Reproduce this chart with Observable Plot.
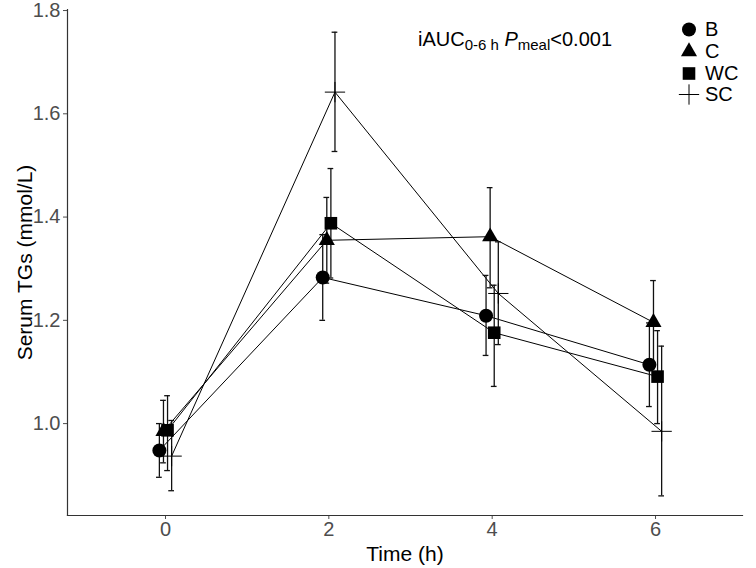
<!DOCTYPE html>
<html>
<head>
<meta charset="utf-8">
<script src="https://cdn.jsdelivr.net/npm/d3@7"></script>
<script src="https://cdn.jsdelivr.net/npm/@observablehq/plot@0.6"></script>
<style>
  body { margin: 0; background: white; }
  #wrap { position: relative; width: 756px; height: 568px; font-family: "Liberation Sans", Arial, sans-serif; }
  #chart { position: absolute; left: 0; top: 0; }
  #note { position: absolute; left: 418px; top: 28px; font-size: 20px; color: #000; white-space: nowrap; }
  #note sub { font-size: 15px; vertical-align: -4px; }
  #legend { position: absolute; left: 678px; top: 19px; font-size: 20px; color: #000; }
  .row { display: flex; align-items: center; height: 21.7px; }
  .row svg { margin-right: 5px; }
</style>
</head>
<body>
<div id="wrap">
  <div id="chart"></div>
  <div id="note">iAUC<sub>0-6 h</sub> <i>P</i><sub>meal</sub>&lt;0.001</div>
  <div id="legend"></div>
</div>
<script>
// ---- data ----
const times = [0, 2, 4, 6];
const seriesNames = ["B", "C", "WC", "SC"];
const B_mean  = [0.948, 1.283, 1.209, 1.114];
const B_lo    = [0.896, 1.200, 1.132, 1.033];
const B_hi    = [1.000, 1.366, 1.287, 1.195];
const C_mean  = [0.985, 1.355, 1.362, 1.196];
const C_lo    = [0.924, 1.272, 1.263, 1.111];
const C_hi    = [1.045, 1.438, 1.457, 1.277];
const WC_mean = [0.987, 1.388, 1.176, 1.091];
const WC_lo   = [0.909, 1.282, 1.072, 1.000];
const WC_hi   = [1.054, 1.494, 1.268, 1.180];
const SC_mean = [0.937, 1.642, 1.252, 0.985];
const SC_lo   = [0.870, 1.527, 1.153, 0.860];
const SC_hi   = [1.006, 1.758, 1.352, 1.150];
const yTicks  = [1.0, 1.2, 1.4, 1.6, 1.8];
const xLabel = "Time (h)";
const yLabel = "Serum TGs (mmol/L)";

// ---- build table ----
const means = {B: B_mean, C: C_mean, WC: WC_mean, SC: SC_mean};
const los = {B: B_lo, C: C_lo, WC: WC_lo, SC: SC_lo};
const his = {B: B_hi, C: C_hi, WC: WC_hi, SC: SC_hi};
const dodgeWidth = 0.2;
const dodge = Object.fromEntries(seriesNames.map((s, i) => [s, (i - (seriesNames.length - 1) / 2) * dodgeWidth / seriesNames.length]));
const data = [];
for (const s of seriesNames) {
  times.forEach((t, i) => data.push({series: s, t, x: t + dodge[s], mean: means[s][i], lo: los[s][i], hi: his[s][i]}));
}
const cap = 0.035;

// ---- symbols (ggplot-like shapes) ----
const circleSym = {draw(ctx, size) { const r = Math.sqrt(size / Math.PI); ctx.moveTo(r, 0); ctx.arc(0, 0, r, 0, 2 * Math.PI); ctx.closePath(); }};
const triSym = {draw(ctx, size) { const r = Math.sqrt(size / Math.PI); const s = 2.3 * r, h = s * 0.866; ctx.moveTo(0, -2 * h / 3); ctx.lineTo(s / 2, h / 3); ctx.lineTo(-s / 2, h / 3); ctx.closePath(); }};
const sqSym = {draw(ctx, size) { const r = Math.sqrt(size / Math.PI); const a = 0.9 * r; ctx.rect(-a, -a, 2 * a, 2 * a); }};
const plusSym = {draw(ctx, size) { const r = Math.sqrt(size / Math.PI); const L = 1.45 * r; ctx.moveTo(-L, 0); ctx.lineTo(L, 0); ctx.moveTo(0, -L); ctx.lineTo(0, L); }};
const symbols = [circleSym, triSym, sqSym, plusSym];

const chart = Plot.plot({
  width: 756,
  height: 568,
  marginLeft: 67,
  marginRight: 14,
  marginTop: 9,
  marginBottom: 53,
  style: {fontFamily: '"Liberation Sans", Arial, sans-serif', fontSize: "20px", color: "#4d4d4d", background: "white", overflow: "visible"},
  x: {domain: [-1.2, 7.065], ticks: times, tickSize: 4, tickPadding: 2, label: xLabel, labelAnchor: "center", labelOffset: 45},
  y: {domain: [0.822, 1.802], ticks: yTicks, tickFormat: ".1f", tickSize: 4, tickPadding: 3, label: yLabel, labelAnchor: "center", labelOffset: 50},
  symbol: {domain: seriesNames, range: symbols},
  marks: [
    Plot.frame({anchor: "left", stroke: "#333", strokeWidth: 1.2}),
    Plot.frame({anchor: "bottom", stroke: "#333", strokeWidth: 1.2}),
    Plot.line(data, {x: "x", y: "mean", z: "series", stroke: "black", strokeWidth: 1}),
    Plot.ruleX(data, {x: "x", y1: "lo", y2: "hi", stroke: "#111", strokeWidth: 1.3}),
    Plot.ruleY(data, {y: "lo", x1: d => d.x - cap, x2: d => d.x + cap, stroke: "#111", strokeWidth: 1.3}),
    Plot.ruleY(data, {y: "hi", x1: d => d.x - cap, x2: d => d.x + cap, stroke: "#111", strokeWidth: 1.3}),
    Plot.dot(data.filter(d => d.series !== "SC"), {x: "x", y: "mean", symbol: "series", fill: "black", stroke: "none", r: 7}),
    Plot.dot(data.filter(d => d.series === "SC"), {x: "x", y: "mean", symbol: "series", fill: "none", stroke: "black", strokeWidth: 1, r: 7})
  ]
});
const svgSel = d3.select(chart);
svgSel.selectAll('[aria-label="x-axis label"] text').text(xLabel);
svgSel.selectAll('[aria-label="y-axis label"] text').text(yLabel);
svgSel.selectAll('[aria-label$="axis label"]').attr("fill", "black").attr("font-size", "21px");
document.getElementById("chart").appendChild(chart);

// ---- legend ----
const legend = d3.select("#legend");
seriesNames.forEach((s, i) => {
  const row = legend.append("div").attr("class", "row");
  const svg = row.append("svg").attr("width", 22).attr("height", 21);
  const p = d3.path();
  symbols[i].draw(p, Math.PI * 49);
  svg.append("path").attr("transform", "translate(11,10.5)").attr("d", p.toString())
    .attr("fill", s === "SC" ? "none" : "black").attr("stroke", s === "SC" ? "black" : "none");
  row.append("span").text(s);
});
</script>
</body>
</html>
